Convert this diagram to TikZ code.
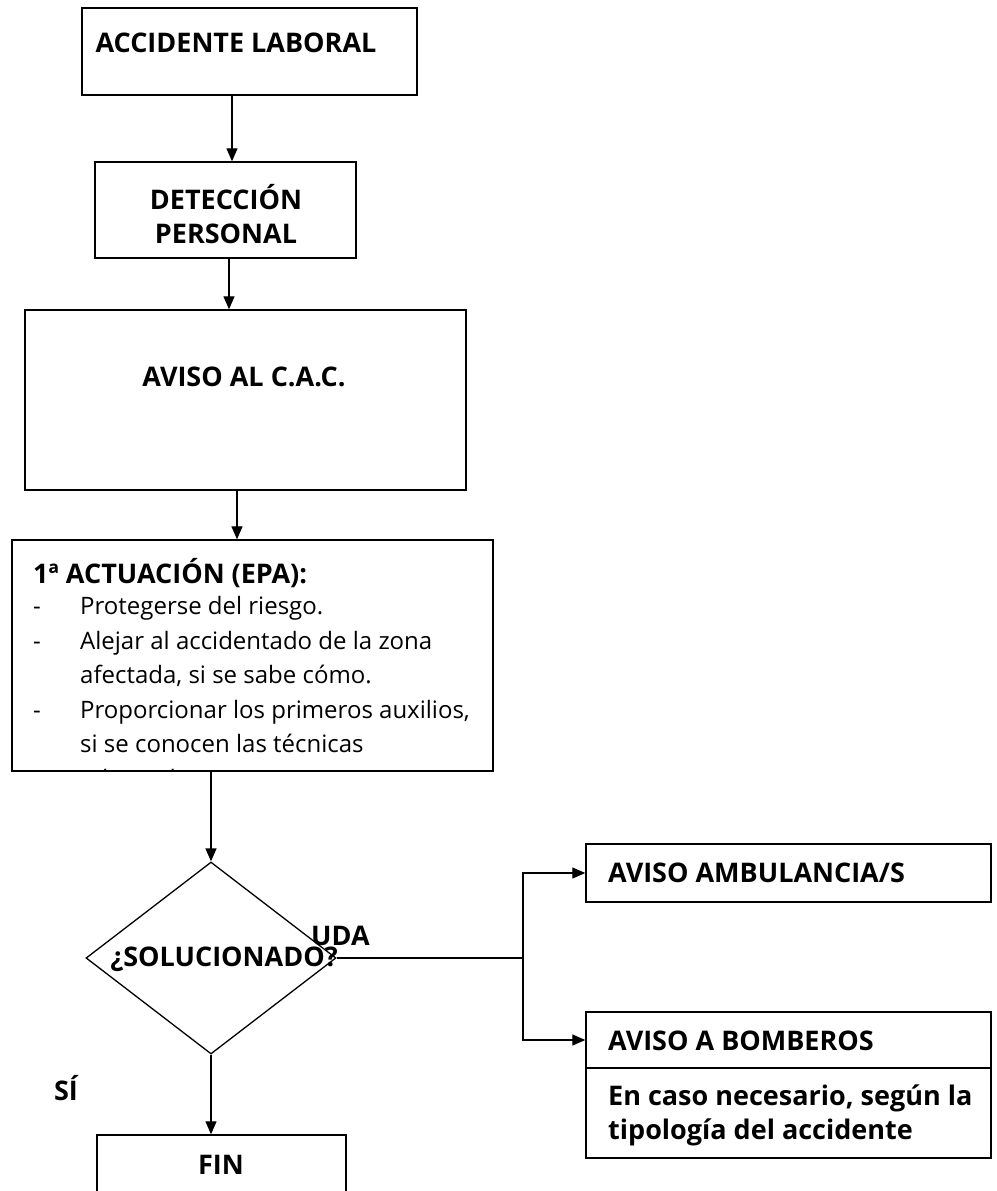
\documentclass[tikz,border=0pt]{standalone}
\usepackage{fontspec}
\setmainfont{Open Sans}
\usetikzlibrary{arrows.meta,shapes.geometric}

\tikzset{
  box/.style={draw, line width=1.4pt, inner sep=0pt},
  arr/.style={line width=1.3pt, -{Triangle[length=13pt,width=11pt]}},
  head/.style={font=\fontsize{27}{34}\selectfont\bfseries, inner sep=0pt},
  body/.style={font=\fontsize{24}{34.5}\selectfont, inner sep=0pt, align=left}
}

\begin{document}
\begin{tikzpicture}[x=1pt, y=-1pt]
\useasboundingbox[fill=white] (0,0) rectangle (996,1191);

% main column
\node[box, minimum width=335, minimum height=87] (acc) at (249.5,51.5) {};
\node[head] (acct) at (236,43) {ACCIDENTE LABORAL};
\node[box, minimum width=261, minimum height=96] (det) at (225.5,210) {};
\node[head, align=center] (dett) at (226,214) {DETECCIÓN\\PERSONAL};
\node[box, minimum width=441, minimum height=180] (cac) at (245.5,400) {};
\node[head] (cact) at (244,377) {AVISO AL C.A.C.};
\node[box, minimum width=481, minimum height=231] (act) at (252.5,655.5) {};
\begin{scope}
\clip (act.north west) rectangle (act.south east);
\node[body, anchor=north west] (actt) at (33,558) {%
{\bfseries\fontsize{27}{34}\selectfont 1ª ACTUACIÓN (EPA):}\\[-3pt]
\makebox[47pt][l]{-}Protegerse del riesgo.\\
\makebox[47pt][l]{-}Alejar al accidentado de la zona\\
\makebox[47pt][l]{}afectada, si se sabe cómo.\\
\makebox[47pt][l]{-}Proporcionar los primeros auxilios,\\
\makebox[47pt][l]{}si se conocen las técnicas\\
\makebox[47pt][l]{}adecuadas.};
\end{scope}

% decision
\node[draw, diamond, line width=1.3pt, minimum width=250, minimum height=192, inner sep=0pt] (sol) at (211,958) {};
\node[head] (solt) at (224,959) {¿SOLUCIONADO?};
\node[head, anchor=west] (udat) at (311,936) {UDA};
\node[head] (sit) at (66,1088) {SÍ};
\node[box, minimum width=249, minimum height=90] (fin) at (221.5,1180) {};
\node[head] (fint) at (221,1165) {FIN};

% right branch
\node[box, minimum width=405, minimum height=58] (amb) at (788.5,873) {};
\node[head, anchor=west] (ambt) at (608,873) {AVISO AMBULANCIA/S};
\node[box, minimum width=405, minimum height=56] (bomh) at (788.5,1040) {};
\node[head, anchor=west] (bomht) at (608,1041) {AVISO A BOMBEROS};
\node[box, minimum width=405, minimum height=90] (bomb) at (788.5,1113) {};
\node[head, anchor=west, align=left] (bombt) at (608,1115) {En caso necesario, según la\\tipología del accidente};

\coordinate (jn) at (523,958);

% connectors
\draw[arr] ([xshift=6.5]det.north |- acc.south) -- ([xshift=6.5]det.north);
\draw[arr] ([xshift=3.5]det.south) -- ([xshift=3.5]det.south |- cac.north);
\draw[arr] ([xshift=-8.5]cac.south) -- ([xshift=-8.5]cac.south |- act.north);
\draw[arr] (sol.north |- act.south) -- (sol.north);
\draw[arr] (sol.south) -- (sol.south |- fin.north);
\draw[line width=1.3pt] (sol.east) -- (jn);
\draw[arr] (jn) |- (amb.west);
\draw[arr] (jn) |- (bomh.west);
\end{tikzpicture}
\end{document}
